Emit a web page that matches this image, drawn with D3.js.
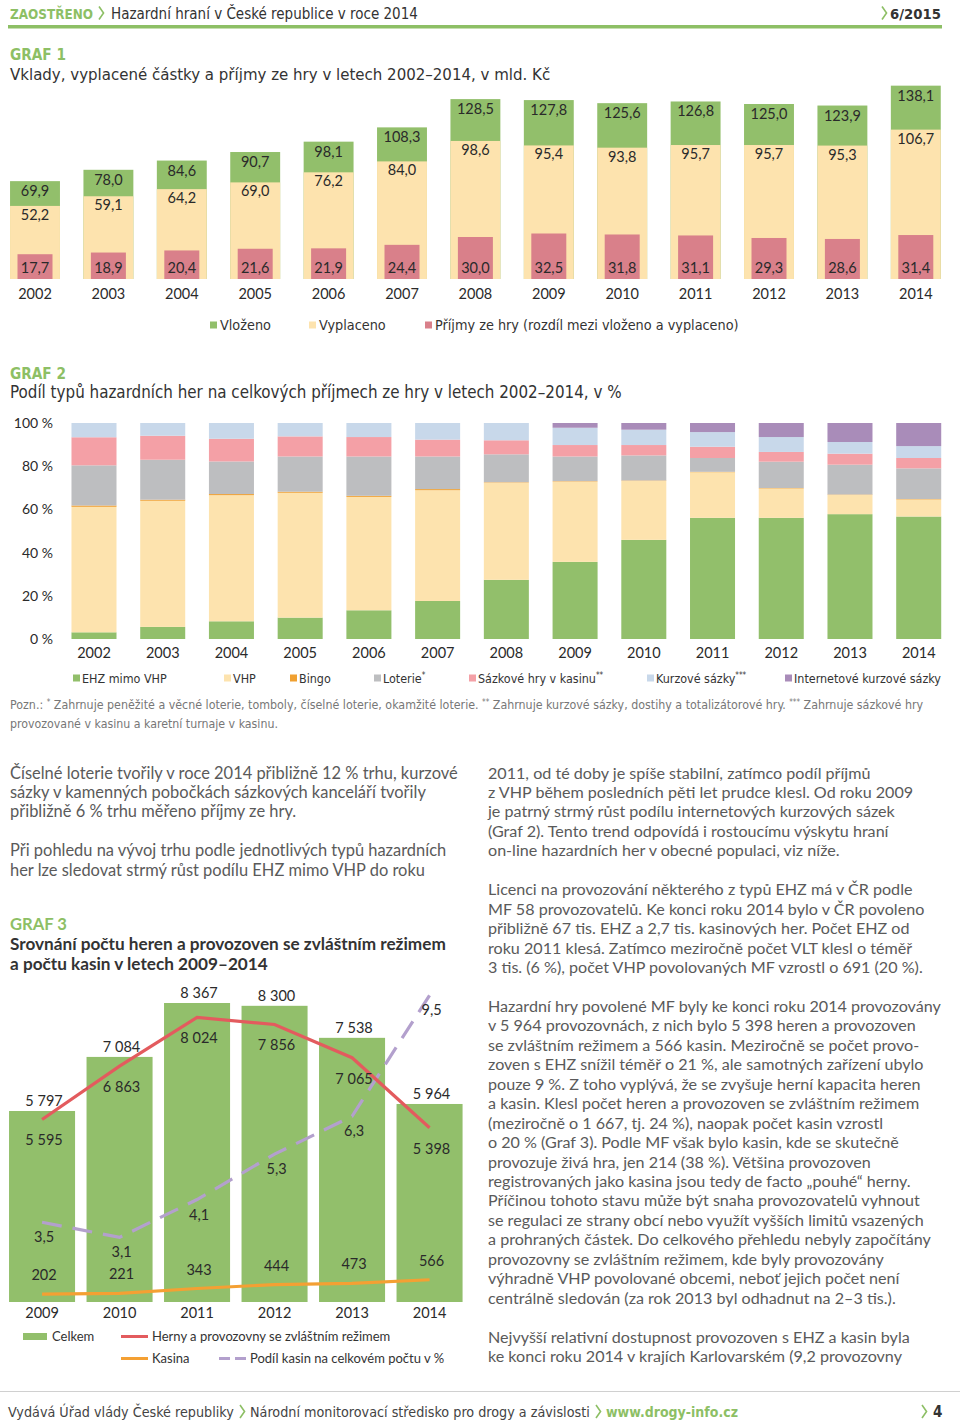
<!DOCTYPE html>
<html><head><meta charset="utf-8">
<script src="https://cdn.jsdelivr.net/npm/d3@7"></script>
<style>
html,body{margin:0;padding:0;background:#fff;}
svg{display:block;}
</style></head><body>
<svg id="page" width="960" height="1426"></svg>
<script>
// ---------------- DATA ----------------
const g1Years = ["2002","2003","2004","2005","2006","2007","2008","2009","2010","2011","2012","2013","2014"];
const g1Vlozeno = [69.9,78.0,84.6,90.7,98.1,108.3,128.5,127.8,125.6,126.8,125.0,123.9,138.1];
const g1Vyplaceno = [52.2,59.1,64.2,69.0,76.2,84.0,98.6,95.4,93.8,95.7,95.7,95.3,106.7];
const g1Prijmy = [17.7,18.9,20.4,21.6,21.9,24.4,30.0,32.5,31.8,31.1,29.3,28.6,31.4];
const g1Legend = ["Vloženo","Vyplaceno","Příjmy ze hry (rozdíl mezi vloženo a vyplaceno)"];

const g2Years = ["2002","2003","2004","2005","2006","2007","2008","2009","2010","2011","2012","2013","2014"];
const g2Keys = ["EHZ mimo VHP","VHP","Bingo","Loterie*","Sázkové hry v kasinu**","Kurzové sázky***","Internetové kurzové sázky"];
const g2EHZ = [3.1,5.6,8.2,9.9,13.3,17.6,27.4,35.7,45.9,56.1,56.1,57.8,56.7];
const g2VHP = [58.1,58.4,58.4,57.8,52.5,51.3,45.0,37.2,27.3,21.1,13.6,8.9,7.9];
const g2Bingo = [0.6,0.5,0.5,0.5,0.5,0.5,0.2,0.2,0.2,0.2,0.2,0.2,0.2];
const g2Loterie = [18.6,18.5,15.1,16.3,18.2,15.1,12.9,11.4,11.6,6.4,12.2,13.8,14.2];
const g2Kasino = [13.0,11.1,10.5,9.3,9.0,7.8,6.5,5.3,4.8,5.2,4.5,5.1,4.8];
const g2Kurzove = [6.6,5.9,7.3,6.2,6.5,7.7,8.0,8.0,7.1,6.8,6.9,5.4,5.5];
const g2Internet = [0,0,0,0,0,0,0,2.2,3.1,4.2,6.5,8.8,10.7];
const g2Ticks = [0,20,40,60,80,100];

const g3Years = ["2009","2010","2011","2012","2013","2014"];
const g3Celkem = [5797,7084,8367,8300,7538,5964];
const g3Herny = [5595,6863,8024,7856,7065,5398];
const g3Kasina = [202,221,343,444,473,566];
const g3Podil = [3.5,3.1,4.1,5.3,6.3,9.5];
const g3Legend = ["Celkem","Herny a provozovny se zvláštním režimem","Kasina","Podíl kasin na celkovém počtu v %"];

// ---------------- TEXT ----------------
const leftText = [
 "Číselné loterie tvořily v roce 2014 přibližně 12 % trhu, kurzové",
 "sázky v kamenných pobočkách sázkových kanceláří tvořily",
 "přibližně 6 % trhu měřeno příjmy ze hry.",
 "",
 "Při pohledu na vývoj trhu podle jednotlivých typů hazardních",
 "her lze sledovat strmý růst podílu EHZ mimo VHP do roku"
];
const rightText = [
 "2011, od té doby je spíše stabilní, zatímco podíl příjmů",
 "z VHP během posledních pěti let prudce klesl. Od roku 2009",
 "je patrný strmý růst podílu internetových kurzových sázek",
 "(Graf 2). Tento trend odpovídá i rostoucímu výskytu hraní",
 "on-line hazardních her v obecné populaci, viz níže.",
 "",
 "Licenci na provozování některého z typů EHZ má v ČR podle",
 "MF 58 provozovatelů. Ke konci roku 2014 bylo v ČR povoleno",
 "přibližně 67 tis. EHZ a 2,7 tis. kasinových her. Počet EHZ od",
 "roku 2011 klesá. Zatímco meziročně počet VLT klesl o téměř",
 "3 tis. (6 %), počet VHP povolovaných MF vzrostl o 691 (20 %).",
 "",
 "Hazardní hry povolené MF byly ke konci roku 2014 provozovány",
 "v 5 964 provozovnách, z nich bylo 5 398 heren a provozoven",
 "se zvláštním režimem a 566 kasin. Meziročně se počet provo-",
 "zoven s EHZ snížil téměř o 21 %, ale samotných zařízení ubylo",
 "pouze 9 %. Z toho vyplývá, že se zvyšuje herní kapacita heren",
 "a kasin. Klesl počet heren a provozoven se zvláštním režimem",
 "(meziročně o 1 667, tj. 24 %), naopak počet kasin vzrostl",
 "o 20 % (Graf 3). Podle MF však bylo kasin, kde se skutečně",
 "provozuje živá hra, jen 214 (38 %). Většina provozoven",
 "registrovaných jako kasina jsou tedy de facto „pouhé“ herny.",
 "Příčinou tohoto stavu může být snaha provozovatelů vyhnout",
 "se regulaci ze strany obcí nebo využít vyšších limitů vsazených",
 "a prohraných částek. Do celkového přehledu nebyly započítány",
 "provozovny se zvláštním režimem, kde byly provozovány",
 "výhradně VHP povolované obcemi, neboť jejich počet není",
 "centrálně sledován (za rok 2013 byl odhadnut na 2–3 tis.).",
 "",
 "Nejvyšší relativní dostupnost provozoven s EHZ a kasin byla",
 "ke konci roku 2014 v krajích Karlovarském (9,2 provozovny"
];

// ---------------- STYLE ----------------
const GREEN = "#92bf6b", YELLOW = "#fde3ae", RED1 = "#d9808a";
const TITLEGREEN = "#8dbf65";
const NARROW = "'Liberation Sans Narrow','DejaVu Sans Condensed',sans-serif";
const BODY = "Lato,'Open Sans',sans-serif";
const g2Colors = ["#92bf6b","#fde3ae","#f0a030","#bdbec0","#f4a0a6","#c8d8ea","#a98cb9"];

const loc = d3.formatLocale({decimal:",", thousands:" ", grouping:[3], currency:["","Kč"]});
const f1 = loc.format(".1f");
const fInt = loc.format(",d");

const svg = d3.select("#page");

function fit(sel, target){
  const node = sel.node();
  const fs = parseFloat(sel.attr("font-size"));
  const w = node.getComputedTextLength();
  if (w > 0) sel.attr("font-size", (fs * target / w).toFixed(2));
  return sel;
}
function chevron(x, y, h, color, w){
  svg.append("path").attr("d", `M${x},${y-h/2} L${x+h*0.35},${y} L${x},${y+h/2}`)
    .attr("fill","none").attr("stroke",color).attr("stroke-width",w||1.6);
}

// ---------------- HEADER ----------------
fit(svg.append("text").attr("x",10).attr("y",18.5).attr("font-family",NARROW).attr("font-weight","bold")
  .attr("font-size",15).attr("fill",TITLEGREEN).text("ZAOSTŘENO"), 83);
chevron(99, 13, 13, TITLEGREEN);
fit(svg.append("text").attr("x",111).attr("y",18.5).attr("font-family",NARROW)
  .attr("font-size",15).attr("fill","#333").text("Hazardní hraní v České republice v roce 2014"), 307);
chevron(882, 13, 13, TITLEGREEN);
fit(svg.append("text").attr("x",890).attr("y",18.5).attr("font-family",NARROW).attr("font-weight","bold")
  .attr("font-size",15).attr("fill","#333").text("6/2015"), 51);
svg.append("rect").attr("x",8).attr("y",25).attr("width",934).attr("height",3.5).attr("fill",TITLEGREEN);

// ---------------- GRAF 1 ----------------
fit(svg.append("text").attr("x",10).attr("y",60).attr("font-family",NARROW).attr("font-weight","bold")
  .attr("font-size",16).attr("fill",TITLEGREEN).text("GRAF 1"), 56);
fit(svg.append("text").attr("x",10).attr("y",80).attr("font-family",NARROW)
  .attr("font-size",17).attr("fill","#333").text("Vklady, vyplacené částky a příjmy ze hry v letech 2002–2014, v mld. Kč"), 541);

const x1 = d3.scaleBand().domain(g1Years).range([-1.7, 952.5]).paddingInner(0.32).paddingOuter(0.16);
const y1 = d3.scaleLinear().domain([0,140]).range([279, 83]);
const g1 = svg.append("g");
const g1Rows = g1Years.map((y,i)=>({year:y, v:g1Vlozeno[i], p:g1Vyplaceno[i], r:g1Prijmy[i]}));
g1.selectAll(".v").data(g1Rows).join("rect").attr("x",d=>x1(d.year)).attr("width",x1.bandwidth())
  .attr("y",d=>y1(d.v)).attr("height",d=>y1(0)-y1(d.v)).attr("fill",GREEN);
g1.selectAll(".p").data(g1Rows).join("rect").attr("x",d=>x1(d.year)).attr("width",x1.bandwidth())
  .attr("y",d=>y1(d.p)).attr("height",d=>y1(0)-y1(d.p)).attr("fill",YELLOW);
const rw = 35;
g1.selectAll(".r").data(g1Rows).join("rect").attr("x",d=>x1(d.year)+x1.bandwidth()/2-rw/2).attr("width",rw)
  .attr("y",d=>y1(d.r)).attr("height",d=>y1(0)-y1(d.r)).attr("fill",RED1);
const lab1 = (acc, dy) => g1.selectAll(null).data(g1Rows).join("text")
  .attr("x",d=>x1(d.year)+x1.bandwidth()/2).attr("y",d=>acc(d)+dy)
  .attr("text-anchor","middle").attr("font-family",BODY).attr("font-size",14.5).attr("fill","#2a2a2a");
lab1(d=>y1(d.v), 15).text(d=>f1(d.v));
lab1(d=>y1(d.p), 14).text(d=>f1(d.p));
lab1(d=>y1(0), -6).text(d=>f1(d.r));
const ax1 = svg.append("g").attr("transform",`translate(0,${y1(0)})`)
  .call(d3.axisBottom(x1).tickSize(0).tickPadding(10));
ax1.select(".domain").remove();
ax1.selectAll("text").attr("font-family",BODY).attr("font-size",14.5).attr("fill","#2a2a2a");

// legend 1
const leg1x = [210, 309, 425];
const leg1c = [GREEN, YELLOW, RED1];
g1Legend.forEach((t,i)=>{
  svg.append("rect").attr("x",leg1x[i]).attr("y",321.5).attr("width",7).attr("height",7).attr("fill",leg1c[i]);
  svg.append("text").attr("x",leg1x[i]+10).attr("y",330).attr("font-family",NARROW).attr("font-size",14.3)
    .attr("fill","#333").text(t);
});

// ---------------- GRAF 2 ----------------
fit(svg.append("text").attr("x",10).attr("y",379).attr("font-family",NARROW).attr("font-weight","bold")
  .attr("font-size",16).attr("fill",TITLEGREEN).text("GRAF 2"), 56);
fit(svg.append("text").attr("x",10).attr("y",398).attr("font-family",NARROW)
  .attr("font-size",17).attr("fill","#333").text("Podíl typů hazardních her na celkových příjmech ze hry v letech 2002–2014, v %"), 612);

const g2Rows = g2Years.map((y,i)=>{
  const r = {year:y};
  [g2EHZ,g2VHP,g2Bingo,g2Loterie,g2Kasino,g2Kurzove,g2Internet].forEach((arr,k)=>r[g2Keys[k]]=arr[i]);
  return r;
});
const stack2 = d3.stack().keys(g2Keys)(g2Rows);
const x2 = d3.scaleBand().domain(g2Years).range([59.8, 952.9]).paddingInner(0.345).paddingOuter(0.17);
const y2 = d3.scaleLinear().domain([0,100]).range([639, 423]);
const g2 = svg.append("g");
g2.selectAll("g").data(stack2).join("g").attr("fill",(d,i)=>g2Colors[i])
  .selectAll("rect").data(d=>d).join("rect")
  .attr("x",d=>x2(d.data.year)).attr("width",x2.bandwidth())
  .attr("y",d=>y2(d[1])).attr("height",d=>Math.max(0,y2(d[0])-y2(d[1])));
const ay2 = svg.append("g").attr("transform","translate(60,0)")
  .call(d3.axisLeft(y2).tickValues(g2Ticks).tickFormat(d=>d+" %").tickSize(0).tickPadding(7));
ay2.select(".domain").remove();
ay2.selectAll("text").attr("font-family",BODY).attr("font-size",14).attr("fill","#2a2a2a");
const ax2 = svg.append("g").attr("transform",`translate(0,${y2(0)})`)
  .call(d3.axisBottom(x2).tickSize(0).tickPadding(9));
ax2.select(".domain").remove();
ax2.selectAll("text").attr("font-family",BODY).attr("font-size",14.5).attr("fill","#2a2a2a");

const leg2x = [73, 224, 290, 374, 469, 647, 785];
const leg2t = [];
g2Keys.forEach((k,i)=>{
  svg.append("rect").attr("x",leg2x[i]).attr("y",674.5).attr("width",7).attr("height",7).attr("fill",g2Colors[i]);
  const m = k.match(/^(.*?)(\**)$/);
  const t = svg.append("text").attr("x",leg2x[i]+9).attr("y",683).attr("font-family",NARROW).attr("font-size",13.5).attr("fill","#333");
  t.append("tspan").text(m[1]);
  if (m[2]) t.append("tspan").attr("font-size",8).attr("dy",-5).text(m[2]);
  leg2t.push(t);
});
{
  const last = leg2t[leg2t.length-1];
  const w = last.node().getComputedTextLength();
  const fs = (13.5 * 147 / w).toFixed(2);
  leg2t.forEach(t=>t.attr("font-size",fs));
}

// note
const note1 = svg.append("text").attr("x",10).attr("y",709).attr("font-family",NARROW).attr("font-size",12.5).attr("fill","#777");
[["Pozn.: ",0],["*",1],[" Zahrnuje peněžité a věcné loterie, tomboly, číselné loterie, okamžité loterie. ",0],["**",1],
 [" Zahrnuje kurzové sázky, dostihy a totalizátorové hry. ",0],["***",1],[" Zahrnuje sázkové hry",0]].forEach(([s,sup])=>{
  const ts = note1.append("tspan").text(s).attr("y", sup ? 705 : 709);
  if (sup) ts.attr("font-size",8);
});
fit(note1, 913);
fit(svg.append("text").attr("x",10).attr("y",728).attr("font-family",NARROW).attr("font-size",12.5).attr("fill","#777")
  .text("provozované v kasinu a karetní turnaje v kasinu."), 268);

// ---------------- BODY TEXT ----------------
function block(lines, x, y0, lh, target, refIdx){
  const g = svg.append("g");
  const ts = g.selectAll("text").data(lines).join("text")
    .attr("x",x).attr("y",(d,i)=>y0+i*lh).attr("font-family",BODY).attr("font-size",16)
    .attr("fill","#5a5a5a").text(d=>d);
  const w = ts.filter((d,i)=>i===refIdx).node().getComputedTextLength();
  ts.attr("font-size",(16*target/w).toFixed(2));
}
block(leftText, 10, 778.5, 19.45, 448, 0);
block(rightText, 488, 778.5, 19.45, 453, 12);

// ---------------- GRAF 3 ----------------
fit(svg.append("text").attr("x",10).attr("y",930).attr("font-family",BODY).attr("font-weight","bold")
  .attr("font-size",16).attr("fill",TITLEGREEN).text("GRAF 3"), 57);
const t3a = fit(svg.append("text").attr("x",10).attr("y",950).attr("font-family",BODY).attr("font-weight","bold")
  .attr("font-size",16).attr("fill","#333").text("Srovnání počtu heren a provozoven se zvláštním režimem"), 436);
svg.append("text").attr("x",10).attr("y",969.5).attr("font-family",BODY).attr("font-weight","bold")
  .attr("font-size",t3a.attr("font-size")).attr("fill","#333").text("a počtu kasin v letech 2009–2014");

const x3 = d3.scaleBand().domain(g3Years).range([3.3, 468.3]).paddingInner(0.148).paddingOuter(0.074);
const yC = d3.scaleLinear().domain([0,9000]).range([1354.6, 976.4]);
const yP = d3.scaleLinear().domain([0,10]).range([1354.6, 976.4]);
const yK = d3.scaleLinear().domain([0,9000]).range([1302, 948.3]);
const base3 = 1302;
const g3Rows = g3Years.map((y,i)=>({year:y, c:g3Celkem[i], h:g3Herny[i], k:g3Kasina[i], p:g3Podil[i]}));
const cx3 = d => x3(d.year)+x3.bandwidth()/2;
const g3 = svg.append("g");
g3.selectAll("rect").data(g3Rows).join("rect").attr("x",d=>x3(d.year)).attr("width",x3.bandwidth())
  .attr("y",d=>yC(d.c)).attr("height",d=>base3-yC(d.c)).attr("fill",GREEN);
g3.append("path").datum(g3Rows).attr("fill","none").attr("stroke","#f4a033").attr("stroke-width",3.2)
  .attr("d",d3.line().x(cx3).y(d=>yK(d.k)));
g3.append("path").datum(g3Rows).attr("fill","none").attr("stroke","#b3a0cd").attr("stroke-width",3.2)
  .attr("stroke-dasharray","20,11").attr("d",d3.line().x(cx3).y(d=>yP(d.p)));
g3.append("path").datum(g3Rows).attr("fill","none").attr("stroke","#e35b5e").attr("stroke-width",3.2)
  .attr("d",d3.line().x(cx3).y(d=>yC(d.h)));
const lab3 = (acc, dy, fmt) => g3.selectAll(null).data(g3Rows).join("text")
  .attr("x",d=>cx3(d)+2).attr("y",d=>acc(d)+dy).attr("text-anchor","middle")
  .attr("font-family",BODY).attr("font-size",14.5).attr("fill","#2a2a2a").text(fmt);
lab3(d=>yC(d.c), -5, d=>fInt(d.c));
lab3(d=>yC(d.h), 26, d=>fInt(d.h));
lab3(d=>yP(d.p), 20, d=>f1(d.p));
lab3(d=>yK(d.k), -14, d=>fInt(d.k));
const ax3 = svg.append("g").attr("transform",`translate(0,${base3})`)
  .call(d3.axisBottom(x3).tickSize(0).tickPadding(6));
ax3.select(".domain").remove();
ax3.selectAll("text").attr("font-family",BODY).attr("font-size",14.5).attr("fill","#2a2a2a");

// legend 3
svg.append("rect").attr("x",23).attr("y",1333).attr("width",24).attr("height",7).attr("fill",GREEN);
svg.append("text").attr("x",52).attr("y",1341).attr("font-family",BODY).attr("font-size",13).attr("fill","#333").text(g3Legend[0]);
svg.append("line").attr("x1",121).attr("x2",148).attr("y1",1336.5).attr("y2",1336.5).attr("stroke","#e35b5e").attr("stroke-width",3);
svg.append("text").attr("x",152).attr("y",1341).attr("font-family",BODY).attr("font-size",13).attr("fill","#333").text(g3Legend[1]);
svg.append("line").attr("x1",121).attr("x2",148).attr("y1",1358.5).attr("y2",1358.5).attr("stroke","#f4a033").attr("stroke-width",3);
svg.append("text").attr("x",152).attr("y",1363).attr("font-family",BODY).attr("font-size",13).attr("fill","#333").text(g3Legend[2]);
svg.append("line").attr("x1",219).attr("x2",247).attr("y1",1358.5).attr("y2",1358.5).attr("stroke","#b3a0cd").attr("stroke-width",3).attr("stroke-dasharray","11,5");
svg.append("text").attr("x",250).attr("y",1363).attr("font-family",BODY).attr("font-size",13).attr("fill","#333").text(g3Legend[3]);

// ---------------- FOOTER ----------------
svg.append("rect").attr("x",0).attr("y",1391).attr("width",960).attr("height",1).attr("fill","#d0d0d0");
fit(svg.append("text").attr("x",8).attr("y",1417).attr("font-family",NARROW).attr("font-size",15).attr("fill","#444")
  .text("Vydává Úřad vlády České republiky"), 226);
chevron(240, 1411.5, 13, TITLEGREEN);
fit(svg.append("text").attr("x",250).attr("y",1417).attr("font-family",NARROW).attr("font-size",15).attr("fill","#444")
  .text("Národní monitorovací středisko pro drogy a závislosti"), 340);
chevron(596, 1411.5, 13, TITLEGREEN);
fit(svg.append("text").attr("x",606).attr("y",1417).attr("font-family",NARROW).attr("font-weight","bold").attr("font-size",15).attr("fill",TITLEGREEN)
  .text("www.drogy-info.cz"), 132);
chevron(922, 1411.5, 13, TITLEGREEN);
svg.append("text").attr("x",933).attr("y",1417).attr("font-family",NARROW).attr("font-weight","bold").attr("font-size",15).attr("fill","#333").text("4");
</script>
</body></html>
